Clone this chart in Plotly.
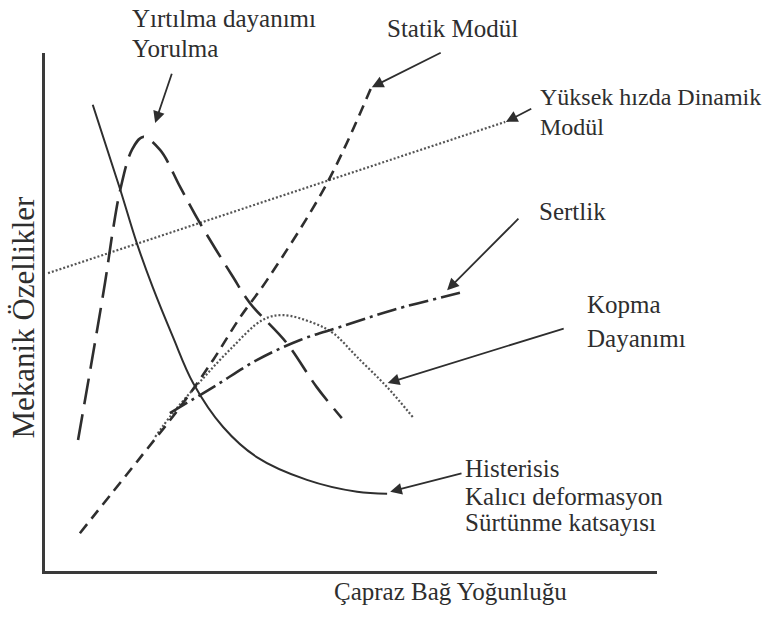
import plotly.graph_objects as go

# Schematic: mechanical properties vs. crosslink density (arbitrary units 0-100)

# Histerisis / Kalıcı deformasyon / Sürtünme katsayısı (solid)
hyst_x = [7.8, 12.3, 15.0, 17.6, 20.9, 24.2, 29.1, 34.6, 42.8, 51.0, 55.9]
hyst_y = [90.0, 73.6, 63.3, 54.8, 45.2, 36.3, 27.8, 22.0, 17.6, 15.3, 14.9]

# Yırtılma dayanımı / Yorulma (long dash)
tear_x = [5.4, 9.8, 11.1, 12.3, 14.2, 16.0, 18.8, 22.1, 25.3, 30.7, 33.5, 39.5, 44.4, 48.5]
tear_y = [25.3, 55.6, 65.8, 73.6, 81.3, 83.8, 81.3, 74.1, 67.2, 56.8, 51.7, 44.0, 35.5, 29.5]

# Statik Modül (short dash)
static_x = [5.7, 15.5, 22.1, 27.5, 31.9, 36.3, 46.1, 53.4]
static_y = [7.3, 21.8, 31.7, 40.8, 49.0, 56.2, 74.9, 93.6]

# Yüksek hızda Dinamik Modül (dotted straight line)
dyn_x = [0.5, 75.2]
dyn_y = [57.5, 86.7]

# Kopma Dayanımı (dotted curve)
tens_x = [18.0, 20.9, 25.3, 30.2, 35.6, 38.9, 43.8, 47.1, 51.0, 55.9, 60.1]
tens_y = [25.9, 30.5, 36.5, 42.7, 48.5, 49.4, 47.9, 45.9, 41.3, 35.5, 29.7]

# Sertlik (dash-dot)
hard_x = [20.4, 27.5, 34.6, 41.7, 48.2, 56.9, 67.8]
hard_y = [30.5, 35.5, 40.7, 44.6, 47.1, 50.4, 53.7]

# Pointer arrows: (tip_x, tip_y, tail_x, tail_y) in data units
pointers = [
    (18.0, 86.5, 20.8, 96.3),   # Yırtılma dayanımı
    (53.4, 93.4, 64.9, 100.2),  # Statik Modül
    (75.3, 86.7, 79.7, 89.4),   # Dinamik Modül
    (65.7, 54.2, 77.6, 68.3),   # Sertlik
    (56.0, 36.3, 85.0, 46.9),   # Kopma Dayanımı
    (56.4, 15.3, 68.3, 18.9),   # Histerisis
]

# Labels: (text, left px, centre px, font size)
labels = [
    ("Yırtılma dayanımı", 130, 18.6, 25),
    ("Yorulma", 130, 48.6, 25),
    ("Statik Modül", 385, 28.6, 25),
    ("Yüksek hızda Dinamik", 538, 96.6, 24),
    ("Modül", 538, 126.6, 24),
    ("Sertlik", 537, 211.6, 25),
    ("Kopma", 585, 304.6, 25),
    ("Dayanımı", 585, 338.6, 25),
    ("Histerisis", 463, 468.6, 25),
    ("Kalıcı deformasyon", 463, 496.6, 25),
    ("Sürtünme katsayısı", 463, 522.6, 25),
]
x_title = "Çapraz Bağ Yoğunluğu"
y_title = "Mekanik Özellikler"

W, H = 770, 617
INK = "#2e2e2e"
FONT = "Liberation Serif, Times New Roman, serif"

fig = go.Figure()

def curve(x, y, dash, width, color=INK, shape="spline"):
    fig.add_trace(go.Scatter(
        x=x, y=y, mode="lines",
        line=dict(color=color, width=width, dash=dash, shape=shape, smoothing=1.0),
        hoverinfo="skip", showlegend=False))

curve(dyn_x, dyn_y, "2px,2px", 2.2, "#555555", "linear")
curve(tens_x, tens_y, "2px,2px", 2.2, "#555555")
curve(static_x, static_y, "11px,7px", 2.6)
curve(hard_x, hard_y, "20px,5px,3px,5px", 2.6)
curve(tear_x, tear_y, "26px,10px", 2.6)
curve(hyst_x, hyst_y, "solid", 2.0)

annotations = []
for tx, ty, sx, sy in pointers:
    annotations.append(dict(
        x=tx, y=ty, ax=sx, ay=sy, xref="x", yref="y", axref="x", ayref="y",
        text="", showarrow=True, arrowhead=2, arrowsize=1.3, arrowwidth=1.8,
        arrowcolor=INK, standoff=0))

for text, left, mid, size in labels:
    annotations.append(dict(
        x=left / W, y=1 - mid / H, xref="paper", yref="paper",
        xanchor="left", yanchor="middle", text=text, showarrow=False,
        font=dict(family=FONT, size=size, color=INK)))

annotations.append(dict(
    x=450.5 / W, y=1 - 591.6 / H, xref="paper", yref="paper",
    xanchor="center", yanchor="middle", text=x_title, showarrow=False,
    font=dict(family=FONT, size=25, color=INK)))
annotations.append(dict(
    x=22.5 / W, y=1 - 317 / H, xref="paper", yref="paper",
    xanchor="center", yanchor="middle", text=y_title, showarrow=False,
    textangle=-90, font=dict(family=FONT, size=31, color=INK)))

axis_common = dict(range=[0, 100], showgrid=False, zeroline=False,
                   showticklabels=False, ticks="", showline=True,
                   linewidth=3, linecolor="#3a3a3a", fixedrange=True)

fig.update_layout(
    width=W, height=H,
    margin=dict(l=0, r=0, t=0, b=0),
    paper_bgcolor="white", plot_bgcolor="white",
    xaxis=dict(domain=[45 / W, 657 / W], **axis_common),
    yaxis=dict(domain=[(H - 571) / H, (H - 53) / H], **axis_common),
    annotations=annotations,
    showlegend=False,
)

fig.write_html("out.html")
